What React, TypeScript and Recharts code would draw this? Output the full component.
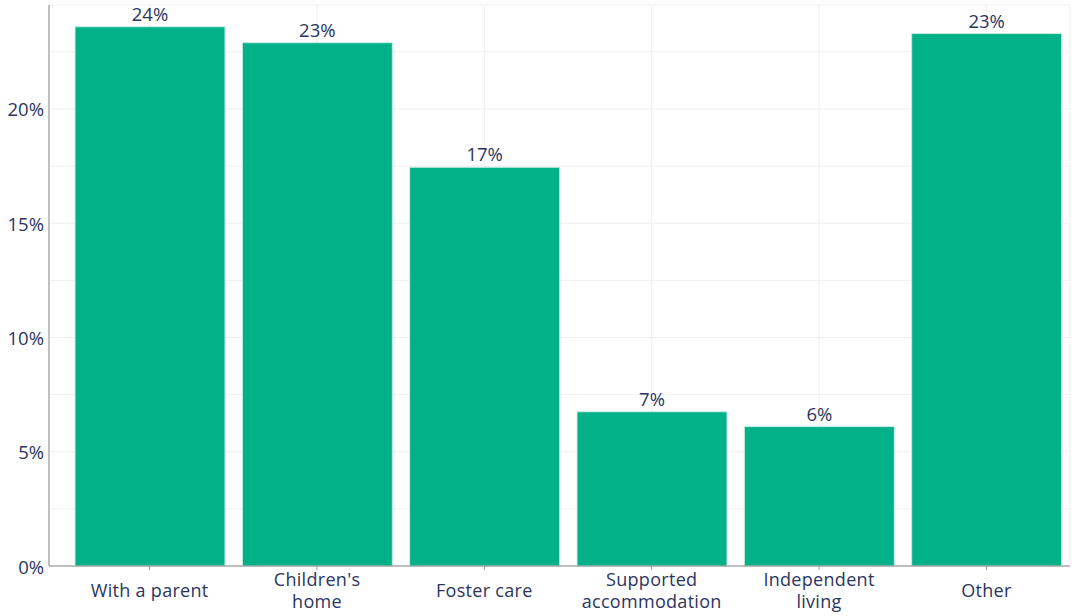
import React from 'react';
import { BarChart, Bar, XAxis, YAxis, CartesianGrid, LabelList } from 'recharts';

const categories = ['With a parent', "Children's home", 'Foster care', 'Supported accommodation', 'Independent living', 'Other'];
const categoryLines = [['With a parent'], ["Children's", 'home'], ['Foster care'], ['Supported', 'accommodation'], ['Independent', 'living'], ['Other']];
const values = [23.6, 22.9, 17.45, 6.75, 6.1, 23.3];
const valueLabels = ['24%', '23%', '17%', '7%', '6%', '23%'];
const yTicks = [0, 2.5, 5, 7.5, 10, 12.5, 15, 17.5, 20, 22.5];

const data = categories.map((c, i) => ({ name: c, idx: i, value: values[i], label: valueLabels[i] }));

const TEXT = '#2b3561';
const FONT = '"Open Sans", sans-serif';

const XTick = (props: any) => {
  const { x, y, payload } = props;
  const lines = categoryLines[payload.index] || [payload.value];
  const startDy = lines.length === 1 ? 16 : 5;
  return (
    <g transform={`translate(${x},${y})`}>
      <line x1={0} x2={0} y1={-8} y2={-4} stroke="#999" />
      {lines.map((l: string, i: number) => (
        <text key={i} x={0} y={startDy + i * 22} textAnchor="middle" dominantBaseline="central" fill={TEXT} fontSize={18} letterSpacing={0.3} fontFamily={FONT}>{l}</text>
      ))}
    </g>
  );
};

const YTick = (props: any) => {
  const { x, y, payload } = props;
  if (payload.value % 5 !== 0) return null;
  return (
    <text x={x + 4} y={y} textAnchor="end" dominantBaseline="central" fill={TEXT} fontSize={18.5} fontFamily={FONT}>{`${payload.value}%`}</text>
  );
};

export default function App() {
  return (
    <div style={{ position: 'absolute', left: 0, top: 0, width: 1075, height: 616, background: '#fff' }}>
      <BarChart width={1075} height={616} data={data} margin={{ top: 5, right: 5, left: 0, bottom: 0 }} barSize={150}>
        <CartesianGrid stroke="#efefef" strokeWidth={1} />
        <XAxis dataKey="name" height={50} axisLine={{ stroke: '#888' }} tickLine={false} tick={<XTick />} interval={0} padding={{ left: 17, right: 0 }} />
        <YAxis domain={[0, 24.55]} ticks={yTicks} width={49} axisLine={{ stroke: '#888' }} tickLine={false} tick={<YTick />} tickMargin={3} />
        <Bar dataKey="value" fill="#02b188" stroke="#c8eee2" strokeWidth={1} isAnimationActive={false}>
          <LabelList dataKey="label" position="top" offset={6} fill={TEXT} fontSize={18.5} fontFamily={FONT} />
        </Bar>
      </BarChart>
    </div>
  );
}
